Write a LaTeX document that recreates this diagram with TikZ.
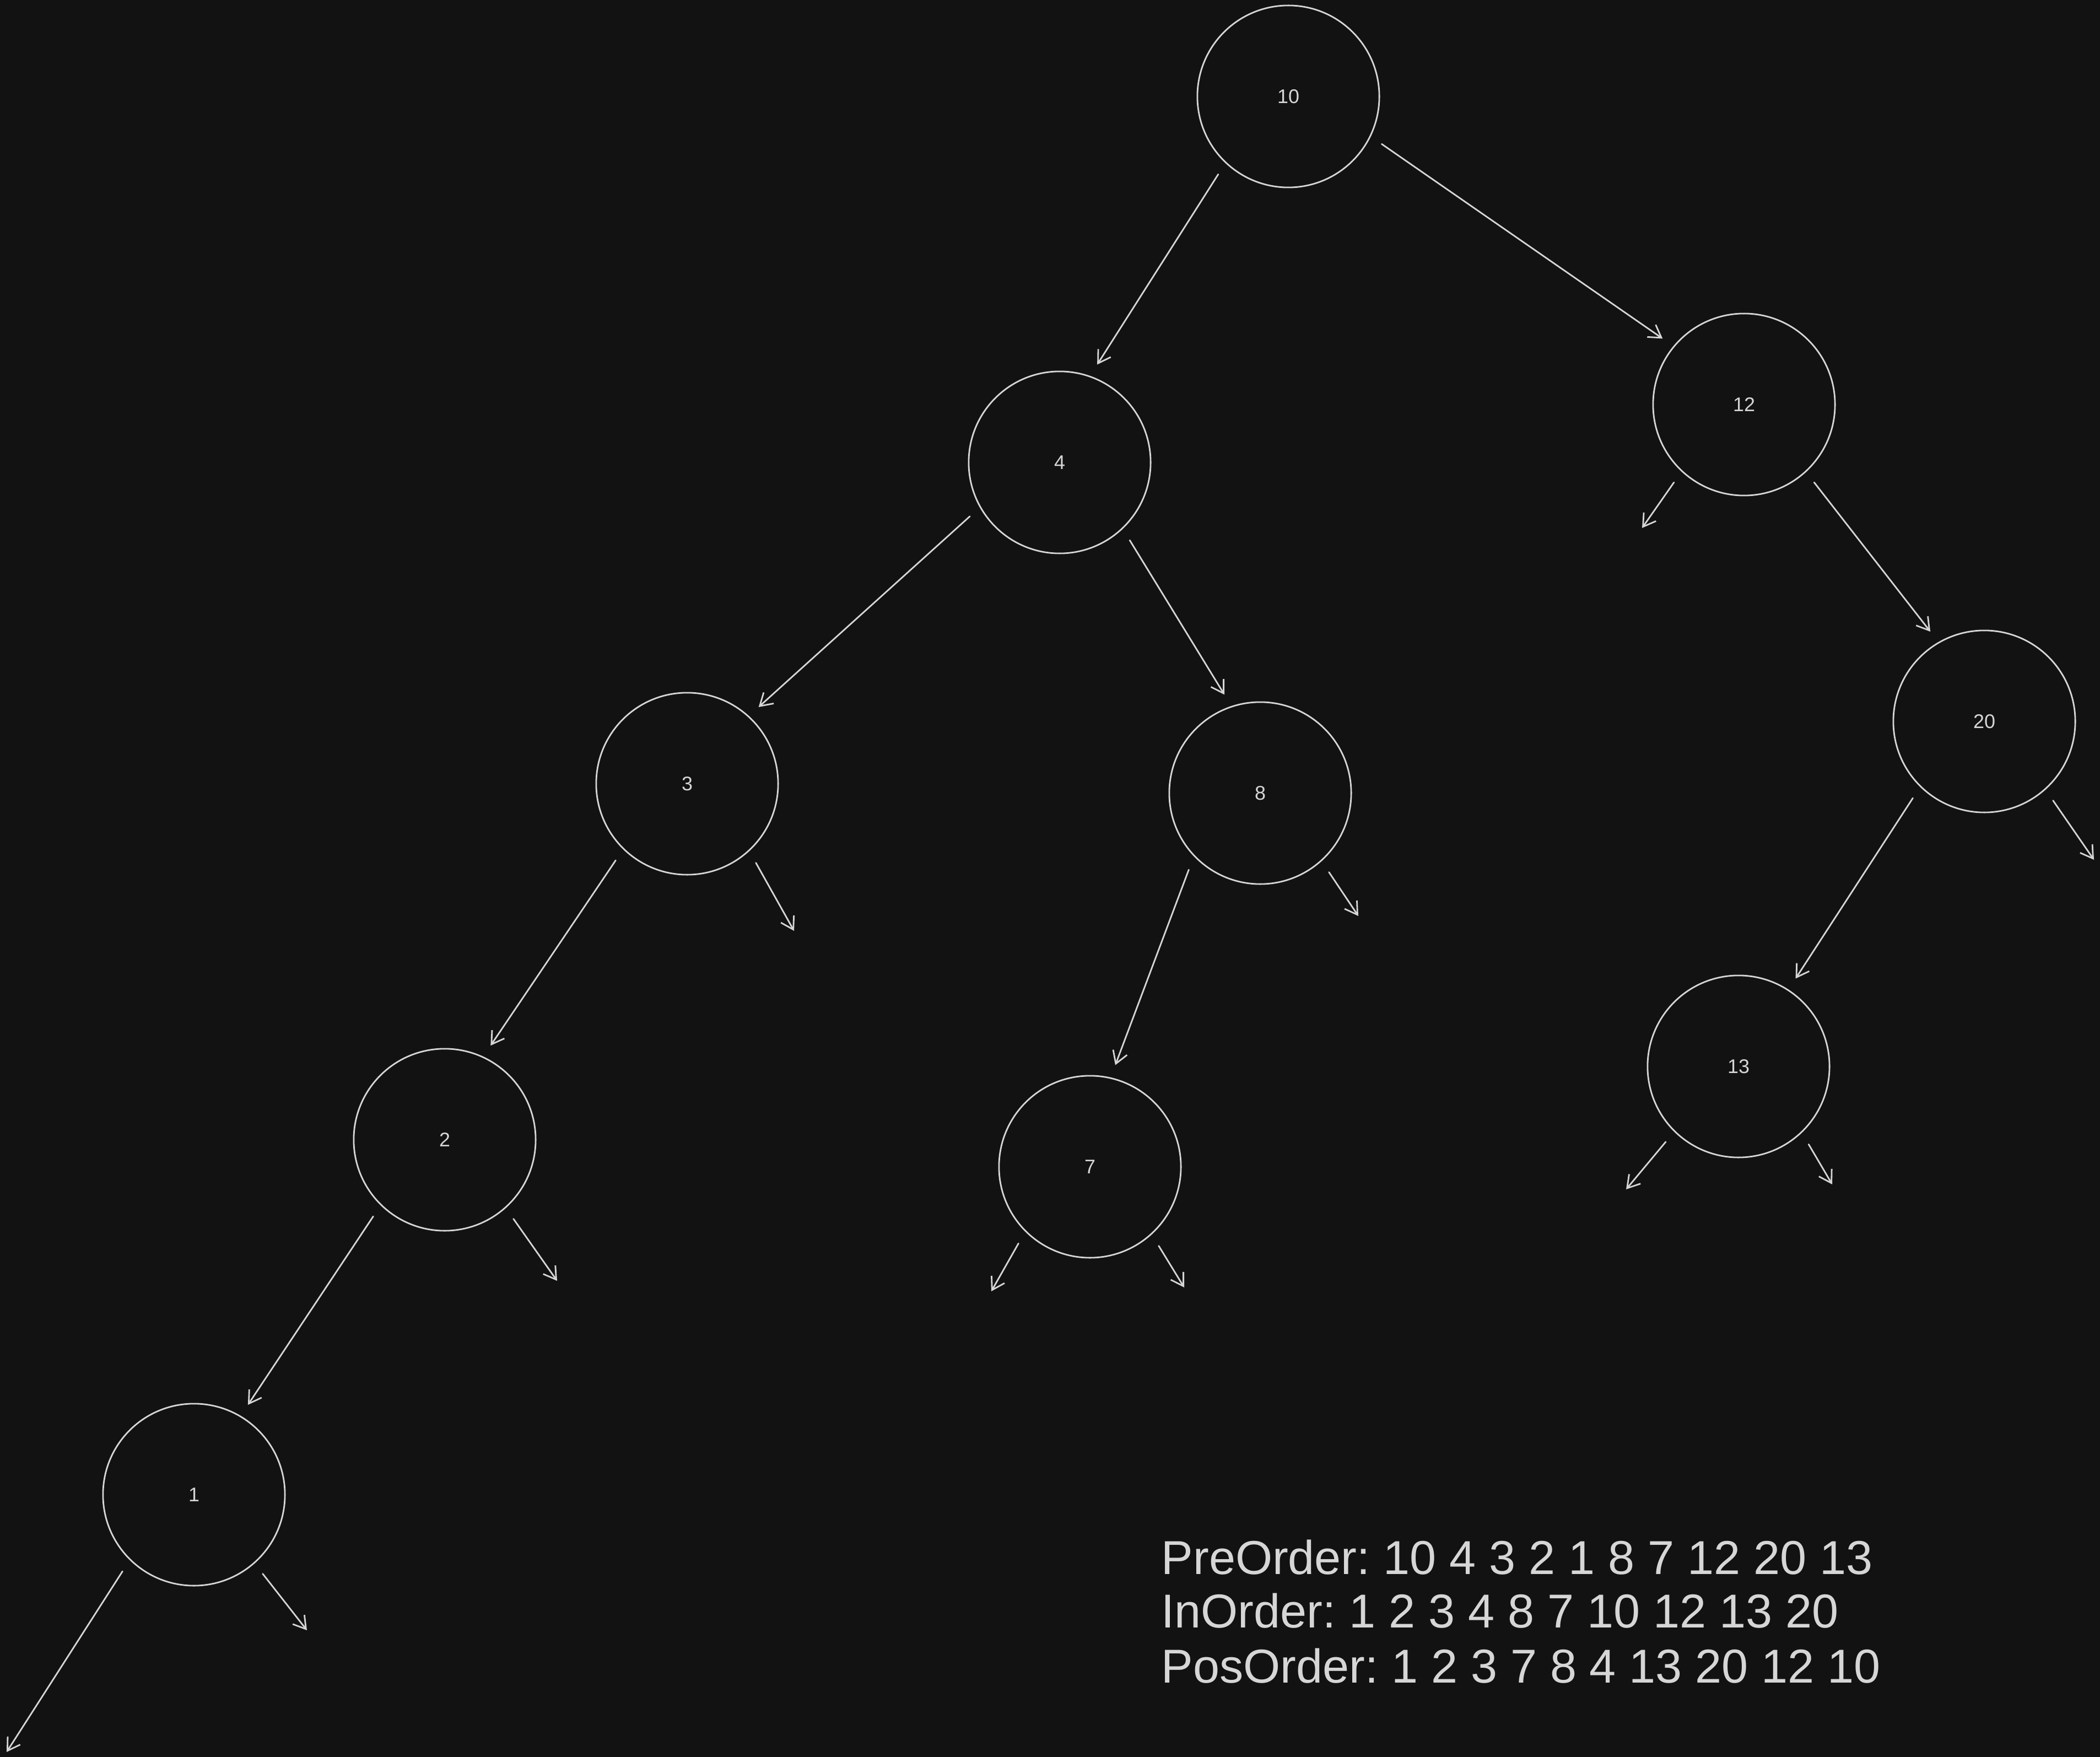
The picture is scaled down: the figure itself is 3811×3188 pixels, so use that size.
\documentclass[tikz,border=0pt]{standalone}
\usepackage{fontspec}
\setmainfont{Liberation Sans}
\usetikzlibrary{arrows.meta}
\definecolor{bg}{HTML}{121212}
\definecolor{ink}{HTML}{D6D6D6}
\frenchspacing
\tikzset{
  tnode/.style={circle, draw=ink, line width=0.8pt, minimum size=3.3cm, inner sep=0pt, outer sep=0.25cm,
    text=ink, font=\fontsize{10.2pt}{12pt}\selectfont},
  edge/.style={draw=ink, line width=0.8pt, line cap=round, line join=round,
    -{Straight Barb[length=0.22cm, width=0.27cm, line width=0.8pt]}},
  trav/.style={anchor=base west, inner sep=0pt, text=ink, font=\fontsize{24.55pt}{28pt}\selectfont\frenchspacing}
}
\begin{document}
\begin{tikzpicture}[x=0.01cm, y=-0.01cm]
\fill[bg] (0,0) rectangle (3811,3188);
\useasboundingbox (0,0) rectangle (3811,3188);

\node[tnode] (n10) at (2338,175) {10};
\node[tnode] (n4) at (1923,839) {4};
\node[tnode] (n12) at (3165,734) {12};
\node[tnode] (n3) at (1247,1422) {3};
\node[tnode] (n8) at (2287,1439) {8};
\node[tnode] (n20) at (3601,1309) {20};
\node[tnode] (n2) at (807,2068) {2};
\node[tnode] (n7) at (1978,2117) {7};
\node[tnode] (n13) at (3155,1935) {13};
\node[tnode] (n1) at (352,2712) {1};

\coordinate (s12l) at (2980,958);
\coordinate (s3r) at (1441,1689);
\coordinate (s8r) at (2465,1662);
\coordinate (s20r) at (3800,1560);
\coordinate (s2r) at (1011,2324);
\coordinate (s7l) at (1799,2343);
\coordinate (s7r) at (2149,2336);
\coordinate (s13l) at (2951,2158);
\coordinate (s13r) at (3325,2149);
\coordinate (s1l) at (12,3179);
\coordinate (s1r) at (557,2958);

\draw[edge] (n10.228) -- (n4.69);
\draw[edge] (n10.333) -- (n12.141);
\draw[edge] (n4.211) -- (n3.47.5);
\draw[edge] (n4.312) -- (n8.110);
\draw[edge] (n12.312) -- (n20.121);
\draw[edge] (n3.227) -- (n2.64);
\draw[edge] (n8.227) -- (n7.76);
\draw[edge] (n20.227.5) -- (n13.57);
\draw[edge] (n2.227) -- (n1.59.5);

\draw[edge] (n12.228) -- (s12l);
\draw[edge] (n3.311.5) -- (s3r);
\draw[edge] (n8.311) -- (s8r);
\draw[edge] (n20.311.5) -- (s20r);
\draw[edge] (n2.311) -- (s2r);
\draw[edge] (n7.227.5) -- (s7l);
\draw[edge] (n7.311) -- (s7r);
\draw[edge] (n13.226.5) -- (s13l);
\draw[edge] (n13.312.4) -- (s13r);
\draw[edge] (n1.227) -- (s1l);
\draw[edge] (n1.311) -- (s1r);

\node[trav] (t1) at (2107,2856) {PreOrder: 10 4 3 2 1 8 7 12 20 13};
\node[trav] (t2) at (2107,2953) {InOrder: 1 2 3 4 8 7 10 12 13 20};
\node[trav] (t3) at (2107,3053) {PosOrder: 1 2 3 7 8 4 13 20 12 10};
\end{tikzpicture}
\end{document}
